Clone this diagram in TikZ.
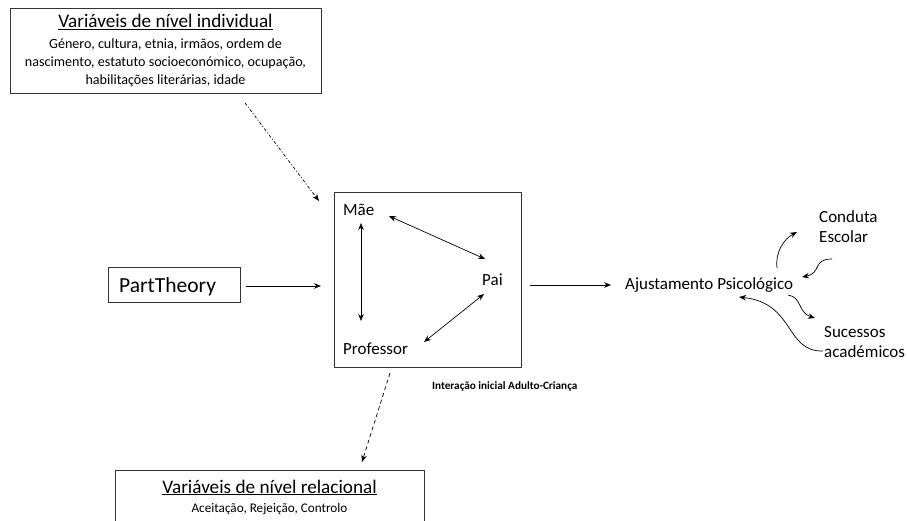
\documentclass[tikz,border=0pt]{standalone}
\usepackage{fontspec}
\setmainfont{Carlito}
\usetikzlibrary{arrows.meta}
\begin{document}
\begin{tikzpicture}[x=1pt,y=-1pt,
  box/.style={draw=black!80,line width=0.8pt,inner sep=0pt},
  lbl/.style={inner sep=0pt,anchor=base west},
  ctr/.style={inner sep=0pt,anchor=base},
  tip/.tip={Stealth[length=7pt,width=5.5pt]},
  conn/.style={line width=0.7pt,-tip},
  biconn/.style={line width=0.7pt,tip-tip},
  title/.style={font=\fontsize{19.2}{22}\selectfont},
  body/.style={font=\fontsize{14.1}{17}\selectfont},
  item/.style={font=\fontsize{17}{20}\selectfont}]
\useasboundingbox (0,0) rectangle (907,521);
\clip (0,0) rectangle (907,521);

% individual-level variables
\node[box,minimum width=311pt,minimum height=85pt] (indiv) at (165.5,50.5) {};
\node[title,ctr] (indivT) at (165.5,28) {\underline{Variáveis de nível individual}};
\node[body,ctr] (indivB1) at (165.5,49) {Género, cultura, etnia, irmãos, ordem de};
\node[body,ctr] (indivB2) at (165.5,67) {nascimento, estatuto socioeconómico, ocupação,};
\node[body,ctr] (indivB3) at (165.5,85) {habilitações literárias, idade};

% adult-child interaction block
\node[box,minimum width=187pt,minimum height=175pt] (core) at (427.5,279.5) {};
\node[item,lbl] (mae) at (343,216) {Mãe};
\node[item,lbl] (pai) at (482,285) {Pai};
\node[item,lbl] (prof) at (343,354) {Professor};
\node[font=\bfseries\fontsize{11.2}{13}\selectfont,lbl] (inter) at (432,389) {Interação inicial Adulto-Criança};

% PARTheory
\node[box,minimum width=132pt,minimum height=35pt] (part) at (174,284.5) {};
\node[font=\fontsize{21.5}{24}\selectfont,lbl] (partT) at (119,292.5) {PartTheory};

% psychological adjustment and outcomes
\node[item,lbl] (ajust) at (625,290) {Ajustamento Psicológico};
\node[item,lbl] (cond1) at (819,223) {Conduta};
\node[item,lbl] (cond2) at (819,243) {Escolar};
\node[item,lbl] (suc1) at (824,337) {Sucessos};
\node[item,lbl] (suc2) at (824,357) {académicos};

% relational-level variables
\node[box,minimum width=309pt,minimum height=70pt,anchor=north west] (rel) at (115,470) {};
\node[title,ctr] (relT) at (269.5,493) {\underline{Variáveis de nível relacional}};
\node[font=\fontsize{13.2}{16}\selectfont,ctr] (relB) at (269.5,512) {Aceitação, Rejeição, Controlo};

% connector end points
\coordinate (indivOut) at (245,103);
\coordinate (coreIn1) at (319,201);
\coordinate (partOut) at (246,286);
\coordinate (coreIn2) at (321,286);
\coordinate (coreOut) at (530,285);
\coordinate (ajustIn) at (611,285);
\coordinate (maeR) at (389,216);
\coordinate (paiL) at (485,259);
\coordinate (maeB) at (361,223);
\coordinate (profT) at (361,321);
\coordinate (paiB) at (484,294);
\coordinate (profR) at (424,342);
\coordinate (coreDown) at (390,373);
\coordinate (relIn) at (362,462);
\coordinate (a1s) at (777,268);
\coordinate (a1e) at (797,232);
\coordinate (a2s) at (832,259);
\coordinate (a2e) at (802,277);
\coordinate (a3s) at (788,295);
\coordinate (a3e) at (815,318);
\coordinate (a4s) at (823,351);
\coordinate (a4e) at (739,297);

\draw[conn,dash pattern=on 3pt off 2pt on 1pt off 2pt] (indivOut) -- (coreIn1);
\draw[conn] (partOut) -- (coreIn2);
\draw[conn] (coreOut) -- (ajustIn);
\draw[biconn] (maeR) -- (paiL);
\draw[biconn] (maeB) -- (profT);
\draw[biconn] (paiB) -- (profR);
\draw[conn,dash pattern=on 4pt off 3pt] (coreDown) -- (relIn);

\draw[conn] (a1s) .. controls (775,252) and (784,239) .. (a1e);
\draw[conn] (a2s) .. controls (812,259) and (822,273) .. (a2e);
\draw[conn] (a3s) .. controls (802,297) and (798,313) .. (a3e);
\draw[conn] (a4s) .. controls (785,352) and (795,303) .. (a4e);
\end{tikzpicture}
\end{document}
